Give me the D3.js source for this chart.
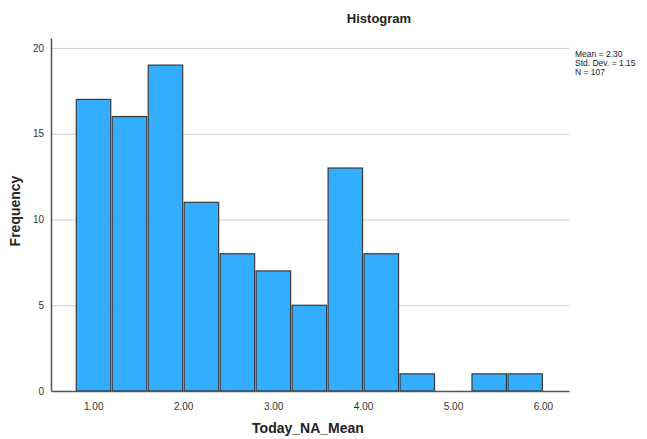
<!DOCTYPE html>
<html>
<head>
<meta charset="utf-8">
<script src="https://cdn.jsdelivr.net/npm/d3@7"></script>
<style>
  body { margin: 0; background: #fff; }
  svg { font-family: Arial, "Liberation Sans", sans-serif; }
</style>
</head>
<body>
<svg id="chart" width="647" height="439"></svg>
<script>
// Histogram of Today_NA_Mean: bins of width 0.4 from 0.8 to 6.0
const binStarts = [0.8, 1.2, 1.6, 2.0, 2.4, 2.8, 3.2, 3.6, 4.0, 4.4, 4.8, 5.2, 5.6];
const binWidth = 0.4;
const frequencies = [17, 16, 19, 11, 8, 7, 5, 13, 8, 1, 0, 1, 1];
const xTicks = [1, 2, 3, 4, 5, 6];
const yTicks = [0, 5, 10, 15, 20];
const statsLines = ["Mean = 2.30", "Std. Dev. = 1.15", "N = 107"];

const svg = d3.select("#chart");
const plotLeft = 51, plotRight = 569, plotTop = 38, plotBottom = 391;

const x = d3.scaleLinear().domain([0.53, 6.29]).range([plotLeft, plotRight]);
const y = d3.scaleLinear().domain([0, 20.58]).range([plotBottom, plotTop]);

// horizontal grid lines
svg.append("g")
  .selectAll("line")
  .data(yTicks.filter(d => d > 0))
  .join("line")
  .attr("x1", plotLeft).attr("x2", plotRight)
  .attr("y1", d => y(d) + 0.5).attr("y2", d => y(d) + 0.5)
  .attr("stroke", "#cfcfcf").attr("stroke-width", 1);

// bars, with a hairline gap between neighbours
const bins = binStarts.map((s, i) => ({ x0: s, x1: s + binWidth, n: frequencies[i] }));
svg.append("g")
  .selectAll("rect")
  .data(bins.filter(d => d.n > 0))
  .join("rect")
  .attr("x", d => x(d.x0) + 1)
  .attr("width", d => x(d.x1) - x(d.x0) - 1.5)
  .attr("y", d => y(d.n))
  .attr("height", d => y(0) - y(d.n))
  .attr("fill", "#33adff")
  .attr("stroke", "#3a3a3a")
  .attr("stroke-width", 1.2);

// y axis
const yAxis = svg.append("g")
  .attr("transform", `translate(${plotLeft},0)`)
  .call(d3.axisLeft(y).tickValues(yTicks).tickSize(0).tickPadding(7).tickFormat(d3.format("d")));
yAxis.select(".domain").attr("stroke", "#555").attr("stroke-width", 1.5);
yAxis.selectAll("text").attr("font-size", 10).attr("fill", "#333")
  .attr("font-family", "Arial, 'Liberation Sans', sans-serif");

// x axis
const xAxis = svg.append("g")
  .attr("transform", `translate(0,${plotBottom})`)
  .call(d3.axisBottom(x).tickValues(xTicks).tickSize(0).tickPadding(12).tickFormat(d3.format(".2f")));
xAxis.select(".domain").attr("stroke", "#555").attr("stroke-width", 1.5);
xAxis.selectAll("text").attr("font-size", 10).attr("fill", "#333")
  .attr("font-family", "Arial, 'Liberation Sans', sans-serif");

// title and axis titles
svg.append("text")
  .attr("x", 379).attr("y", 23)
  .attr("text-anchor", "middle")
  .attr("font-size", 13).attr("font-weight", "bold").attr("fill", "#222")
  .text("Histogram");

svg.append("text")
  .attr("x", 308).attr("y", 433)
  .attr("text-anchor", "middle")
  .attr("font-size", 14).attr("font-weight", "bold").attr("fill", "#222")
  .text("Today_NA_Mean");

svg.append("text")
  .attr("transform", "translate(20,211) rotate(-90)")
  .attr("text-anchor", "middle")
  .attr("font-size", 14).attr("font-weight", "bold").attr("fill", "#222")
  .text("Frequency");

// summary statistics
svg.append("g")
  .selectAll("text")
  .data(statsLines)
  .join("text")
  .attr("x", 575)
  .attr("y", (d, i) => 57 + i * 9)
  .attr("font-size", 8.5).attr("fill", "#222")
  .text(d => d);
</script>
</body>
</html>
